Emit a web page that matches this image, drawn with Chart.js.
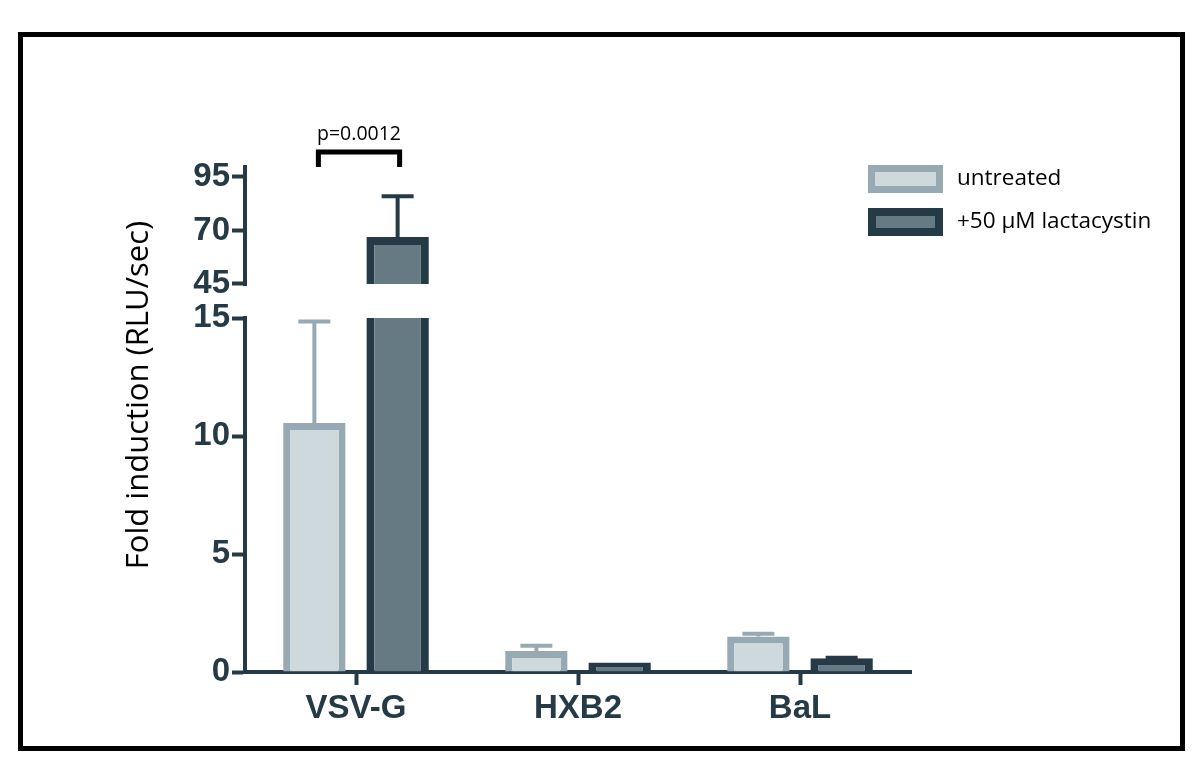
<!DOCTYPE html>
<html>
<head>
<meta charset="utf-8">
<script src="https://cdn.jsdelivr.net/npm/chart.js@4/dist/chart.umd.min.js"></script>
<style>
  body { margin: 0; background: #fff; }
  #wrap { position: relative; width: 1200px; height: 784px; }
  #frame { position: absolute; left: 18px; top: 32px; width: 1157px; height: 709px; border: 5px solid #000; }
  canvas { position: absolute; left: 0; top: 0; }
</style>
</head>
<body>
<div id="wrap">
  <div id="frame"></div>
  <canvas id="chart" width="1200" height="784"></canvas>
</div>
<script>
// fold induction per virus envelope
const categories = ['VSV-G', 'HXB2', 'BaL'];
const untreated = [10.55, 0.89, 1.5];
const untreatedErr = [4.3, 0.22, 0.12];
const lactacystin = [67, 0.4, 0.58];
const lactacystinErr = [19, 0, 0.02];
const seriesNames = ['untreated', '+50 µM lactacystin'];

// broken y axis: lower part 0-15, upper part 45-95
const lowTicks = [0, 5, 10, 15];
const highTicks = [45, 70, 95];
const LOW_MAX = 15;
const HIGH_MIN = 45;
const pLabel = 'p=0.0012';

const axisColor = '#253a44';
const lightFill = '#cdd9dc', lightEdge = '#97aab4';
const darkFill = '#667a83', darkEdge = '#243b47';

function edges(w, top) {
    return { top: top ? w : 0, left: w, right: w, bottom: 0 };
}

const lowDark = lactacystin.map(v => Math.min(v, LOW_MAX));
const highLight = untreated.map(v => v > HIGH_MIN ? [HIGH_MIN, v] : null);
const highDark = lactacystin.map(v => v > HIGH_MIN ? [HIGH_MIN, v] : null);

const errorBars = {
    id: 'errorBars',
    afterDatasetsDraw(chart) {
        const ctx = chart.ctx;
        const yLow = chart.scales.yLow, yHigh = chart.scales.yHigh;
        const pix = v => v <= LOW_MAX ? yLow.getPixelForValue(v) : yHigh.getPixelForValue(v);
        const groups = [
            { vals: untreated, errs: untreatedErr, meta: chart.getDatasetMeta(0), color: lightEdge },
            { vals: lactacystin, errs: lactacystinErr, meta: chart.getDatasetMeta(1), color: darkEdge }
        ];
        ctx.save();
        ctx.lineWidth = 4;
        groups.forEach(g => {
            ctx.strokeStyle = g.color;
            g.vals.forEach((v, i) => {
                if (!g.errs[i]) return;
                const x = g.meta.data[i].x;
                const y0 = pix(v), y1 = pix(v + g.errs[i]);
                ctx.beginPath();
                ctx.moveTo(x, y0);
                ctx.lineTo(x, y1);
                ctx.moveTo(x - 16, y1);
                ctx.lineTo(x + 16, y1);
                ctx.stroke();
            });
        });

        // upper axis piece (45 .. top)
        ctx.strokeStyle = axisColor;
        ctx.beginPath();
        ctx.moveTo(chart.chartArea.left, yHigh.getPixelForValue(HIGH_MIN) + 2);
        ctx.lineTo(chart.chartArea.left, yHigh.top);
        ctx.stroke();

        // significance bracket
        const xa = chart.getDatasetMeta(0).data[0].x + 4;
        const xb = chart.getDatasetMeta(1).data[0].x + 2;
        const yb = chart.chartArea.top - 13;
        ctx.strokeStyle = '#000';
        ctx.lineWidth = 5;
        ctx.beginPath();
        ctx.moveTo(xa, yb + 15);
        ctx.lineTo(xa, yb);
        ctx.lineTo(xb, yb);
        ctx.lineTo(xb, yb + 15);
        ctx.stroke();
        ctx.fillStyle = '#000';
        ctx.font = '19.5px "Open Sans"';
        ctx.textAlign = 'center';
        ctx.textBaseline = 'alphabetic';
        ctx.fillText(pLabel, (xa + xb) / 2, yb - 12);

        // y title
        ctx.save();
        ctx.translate(139, 395);
        ctx.rotate(-Math.PI / 2);
        ctx.font = '31px "Open Sans"';
        ctx.textAlign = 'center';
        ctx.textBaseline = 'middle';
        ctx.fillText('Fold induction (RLU/sec)', 0, 0);
        ctx.restore();

        // legend
        const items = [[lightEdge, lightFill, 7], [darkEdge, darkFill, 8]];
        items.forEach((it, k) => {
            const x = 868, y = 165 + k * 43;
            ctx.fillStyle = it[0];
            ctx.fillRect(x, y, 75, 28);
            ctx.fillStyle = it[1];
            ctx.fillRect(x + it[2], y + it[2], 75 - 2 * it[2], 28 - 2 * it[2]);
            ctx.fillStyle = '#000';
            ctx.textAlign = 'left';
            ctx.textBaseline = 'middle';
            ctx.font = '22.5px "Open Sans"';
            ctx.fillText(seriesNames[k], 957, y + 14);
        });
        ctx.restore();
    }
};

new Chart(document.getElementById('chart'), {
    type: 'bar',
    data: {
        labels: categories,
        datasets: [
            { label: seriesNames[0], data: untreated, yAxisID: 'yLow', stack: 'u',
              backgroundColor: lightFill, borderColor: lightEdge, borderWidth: edges(7, true) },
            { label: seriesNames[1], data: lowDark, yAxisID: 'yLow', stack: 'l',
              backgroundColor: darkFill, borderColor: darkEdge,
              borderWidth: c => edges(8, lactacystin[c.dataIndex] <= LOW_MAX) },
            { label: seriesNames[0], data: highLight, yAxisID: 'yHigh', stack: 'u',
              backgroundColor: lightFill, borderColor: lightEdge, borderWidth: edges(7, true) },
            { label: seriesNames[1], data: highDark, yAxisID: 'yHigh', stack: 'l',
              backgroundColor: darkFill, borderColor: darkEdge, borderWidth: edges(8, true) }
        ]
    },
    options: {
        responsive: false,
        animation: false,
        categoryPercentage: 0.75,
        barPercentage: 0.75,
        borderSkipped: false,
        layout: { padding: { left: 165, top: 165, right: 289, bottom: 52 } },
        plugins: { legend: { display: false }, tooltip: { enabled: false } },
        scales: {
            x: {
                stacked: true,
                offset: true,
                grid: { offset: false, drawOnChartArea: false, tickLength: 13, tickWidth: 4, tickColor: axisColor },
                border: { width: 4, color: axisColor },
                ticks: { color: axisColor, font: { family: 'Liberation Sans', size: 33, weight: 'bold' }, padding: 4 },
                afterFit: s => { s.height = 60; }
            },
            yLow: {
                type: 'linear', position: 'left', stack: 'v', stackWeight: 354, stacked: false,
                min: 0, max: LOW_MAX,
                afterBuildTicks: s => { s.ticks = lowTicks.map(v => ({ value: v })); },
                grid: { drawOnChartArea: false, tickLength: 13, tickWidth: 4, tickColor: axisColor },
                border: { width: 4, color: axisColor },
                ticks: { color: axisColor, font: { family: 'Liberation Sans', size: 33, weight: 'bold' }, padding: 2 },
                afterFit: s => { s.width = 80; }
            },
            yHigh: {
                type: 'linear', position: 'left', stack: 'v', stackWeight: 153, stacked: false,
                min: 29.1, max: 100.6,
                afterBuildTicks: s => { s.ticks = highTicks.map(v => ({ value: v })); },
                grid: { drawOnChartArea: false, tickLength: 13, tickWidth: 4, tickColor: axisColor },
                border: { display: false },
                ticks: { color: axisColor, font: { family: 'Liberation Sans', size: 33, weight: 'bold' }, padding: 2 },
                afterFit: s => { s.width = 80; }
            }
        }
    },
    plugins: [errorBars]
});
</script>
</body>
</html>
